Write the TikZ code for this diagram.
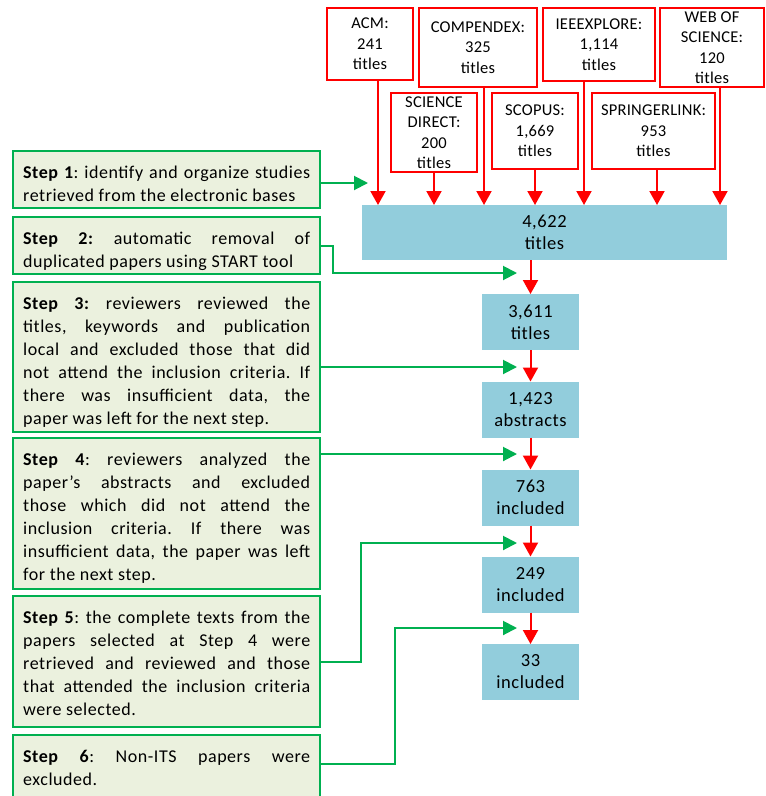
\documentclass[tikz,border=0pt]{standalone}
\usepackage{fontspec}
\setmainfont{Carlito}
\newfontfamily\steptype[LetterSpace=3]{Carlito}
\newfontfamily\counttype[LetterSpace=3]{Carlito}
\newfontfamily\srctype[LetterSpace=1.5]{Carlito}
\usetikzlibrary{arrows.meta,calc}
\frenchspacing

\definecolor{stepgreen}{RGB}{0,176,80}
\definecolor{stepfill}{RGB}{235,241,222}
\definecolor{countfill}{RGB}{146,205,220}
\definecolor{srcred}{RGB}{255,0,0}

% one justified line of a step description
\newcommand{\jline}[1]{\makebox[287pt][s]{#1}}

\tikzset{
  srcbox/.style={draw=srcred, line width=2pt, fill=white, inner sep=0pt, outer sep=0pt,
    align=center, font=\srctype\fontsize{16.5}{20.5}\selectfont},
  countbox/.style={fill=countfill, inner sep=0pt, outer sep=0pt, align=center,
    minimum width=97pt, minimum height=56pt, font=\counttype\fontsize{18.5}{22}\selectfont},
  stepbox/.style={draw=stepgreen, line width=1.8pt, fill=stepfill, inner sep=0pt,
    outer sep=0pt, minimum width=307pt},
  steptext/.style={anchor=base west, inner sep=0pt, align=left,
    font=\steptype\fontsize{18}{23}\selectfont},
  redarrow/.style={draw=srcred, line width=2pt, -{Triangle[length=14pt,width=15pt]}},
  greenarrow/.style={draw=stepgreen, line width=2pt, -{Triangle[length=14pt,width=14pt]}},
}

\begin{document}
\begin{tikzpicture}[x=1pt,y=-1pt]
\clip (0,0) rectangle (766,796);
\fill[white] (0,0) rectangle (766,796);

% ---- electronic databases ----
\node[srcbox, minimum width=86pt,  minimum height=72pt] (acm)  at (370,44)    {ACM:\\241\\titles};
\node[srcbox, minimum width=118pt, minimum height=79pt] (comp) at (478,47.5)  {COMPENDEX:\\325\\titles};
\node[srcbox, minimum width=112pt, minimum height=73pt] (ieee) at (599,44.5)  {IEEEXPLORE:\\1,114\\titles};
\node[srcbox, minimum width=104pt, minimum height=79pt] (wos)  at (712,47.5)  {WEB OF\\SCIENCE:\\120\\titles};
\node[srcbox, minimum width=86pt,  minimum height=79pt] (sd)   at (434,132.5) {SCIENCE\\DIRECT:\\200\\titles};
\node[srcbox, minimum width=86pt,  minimum height=76pt] (scop) at (535,131)   {SCOPUS:\\1,669\\titles};
\node[srcbox, minimum width=123pt, minimum height=76pt] (spr)  at (653.5,131) {SPRINGERLINK:\\953\\titles};

% ---- counts after each step ----
\node[countbox, minimum width=365pt, minimum height=55pt] (c1) at (544.5,232.5) {4,622\\titles};
\node[countbox] (c2) at (530.5,322)   {3,611\\titles};
\node[countbox] (c3) at (530.5,409.5) {1,423\\abstracts};
\node[countbox] (c4) at (530.5,497.5) {763\\included};
\node[countbox] (c5) at (530.5,584.5) {249\\included};
\node[countbox] (c6) at (530.5,672)   {33\\included};

% ---- database arrows into the first count ----
\coordinate (fa) at ($(acm.south)+(8,0)$);
\coordinate (fb) at (sd.south);
\coordinate (fc) at ($(comp.south)+(6,0)$);
\coordinate (fd) at (scop.south);
\coordinate (fe) at ($(ieee.south)+(-15,0)$);
\coordinate (ff) at ($(spr.south)+(3.5,0)$);
\coordinate (fg) at ($(wos.south)+(8,0)$);
\foreach \f in {fa,fb,fc,fd,fe,ff,fg}
  \draw[redarrow] (\f) -- (\f |- c1.north);

% ---- arrows between counts ----
\draw[redarrow] (c2.north |- c1.south) -- (c2.north);
\draw[redarrow] (c2.south) -- (c3.north);
\draw[redarrow] (c3.south) -- (c4.north);
\draw[redarrow] (c4.south) -- (c5.north);
\draw[redarrow] (c5.south) -- (c6.north);

% ---- step descriptions (text placed by the baseline of its last line) ----
\node[stepbox, minimum height=57pt]  (s1) at (166.5,179.5) {};
\node[stepbox, minimum height=57pt]  (s2) at (166.5,245.5) {};
\node[stepbox, minimum height=150pt] (s3) at (166.5,357)   {};
\node[stepbox, minimum height=151pt] (s4) at (166.5,513.5) {};
\node[stepbox, minimum height=131pt] (s5) at (166.5,661.5) {};
\node[stepbox, minimum height=66pt]  (s6) at (166.5,768)   {};

\node[steptext] (t1) at ($(s1.north west)+(10,50)$) {%
  \jline{\textbf{Step 1}: identify and organize studies}\\
  retrieved from the electronic bases};
\node[steptext] (t2) at ($(s2.north west)+(10,50)$) {%
  \jline{\textbf{Step 2:} automatic removal of}\\
  duplicated papers using START tool};
\node[steptext] (t3) at ($(s3.north west)+(10,142)$) {%
  \jline{\textbf{Step 3:} reviewers reviewed the}\\
  \jline{titles, keywords and publication}\\
  \jline{local and excluded those that did}\\
  \jline{not attend the inclusion criteria. If}\\
  \jline{there was insufficient data, the}\\
  paper was left for the next step.};
\node[steptext] (t4) at ($(s4.north west)+(10,142)$) {%
  \jline{\textbf{Step 4}: reviewers analyzed the}\\
  \jline{paper’s abstracts and excluded}\\
  \jline{those which did not attend the}\\
  \jline{inclusion criteria. If there was}\\
  \jline{insufficient data, the paper was left}\\
  for the next step.};
\node[steptext] (t5) at ($(s5.north west)+(10,119)$) {%
  \jline{\textbf{Step 5}: the complete texts from the}\\
  \jline{papers selected at Step 4 were}\\
  \jline{retrieved and reviewed and those}\\
  \jline{that attended the inclusion criteria}\\
  were selected.};
\node[steptext] (t6) at ($(s6.north west)+(10,50)$) {%
  \jline{\textbf{Step 6}: Non-ITS papers were}\\
  excluded.};

% ---- step connectors ----
\coordinate (g1) at (368,183);
\coordinate (g2) at (517,273);
\coordinate (g3) at (517,367);
\coordinate (g4) at (517,454);
\coordinate (g5) at (517,543);
\coordinate (g6) at (517,628);

\draw[greenarrow] (s1.east |- g1) -- (g1);
\draw[greenarrow] (s2.east) -- ++(13,0) |- (g2);
\draw[greenarrow] (s3.east |- g3) -- (g3);
\draw[greenarrow] (s4.east |- g4) -- (g4);
\draw[greenarrow] (s5.east) -- ++(41,0) |- (g5);
\draw[greenarrow] ($(s6.east)+(0,-4)$) -- ++(75,0) |- (g6);
\end{tikzpicture}
\end{document}
